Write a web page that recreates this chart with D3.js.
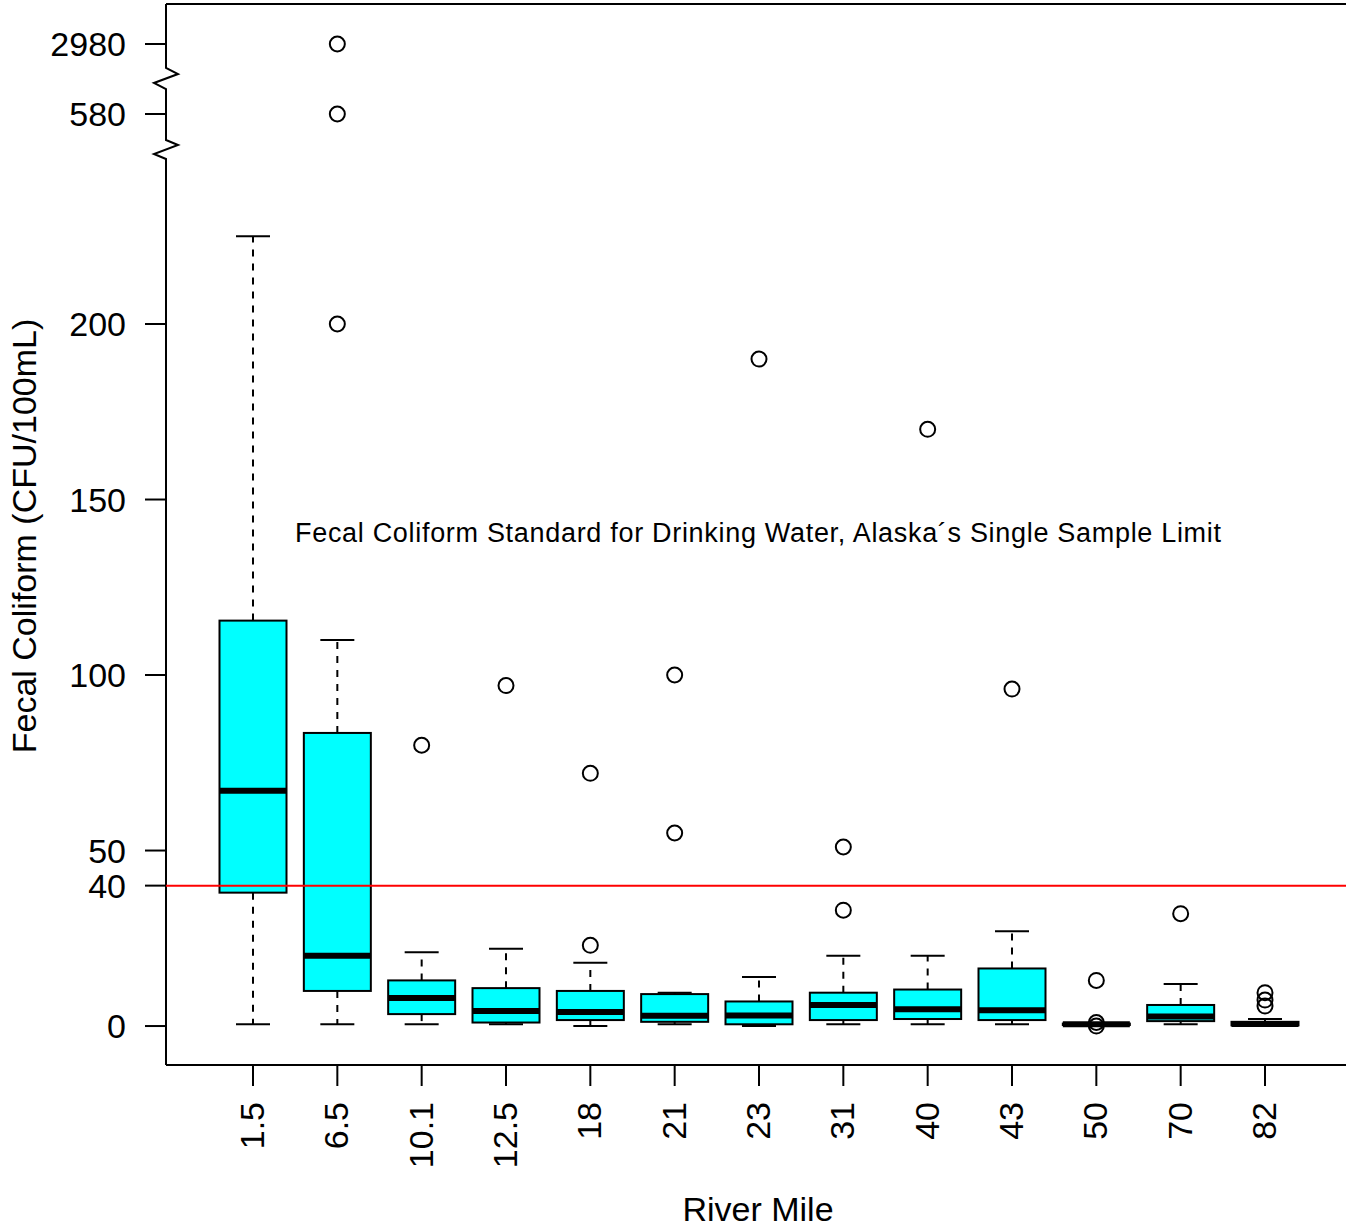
<!DOCTYPE html>
<html>
<head>
<meta charset="utf-8">
<script src="https://cdn.jsdelivr.net/npm/d3@7"></script>
<style>
  html, body { margin: 0; padding: 0; background: #fff; }
  svg { display: block; }
  text { font-family: "Liberation Sans", Arial, Helvetica, sans-serif; fill: #000; }
</style>
</head>
<body>
<svg id="chart" width="1346" height="1228"></svg>
<script>
// ---- Data ----
const categories = ["1.5","6.5","10.1","12.5","18","21","23","31","40","43","50","70","82"];
const whiskerLow  = [0.5, 0.5, 0.5, 0.5, 0,   0.5, 0,   0.5, 0.5, 0.5, 0.3, 0.5, 0];
const q1          = [38,  10,  3.4, 1,   1.7, 1.2, 0.5, 1.7, 2,   1.7, 0.3, 1.4, 0.2];
const medians     = [67,  20,  8,   4.3, 4,   2.9, 3,   6,   4.8, 4.5, 0.5, 2.7, 0.6];
const q3          = [115.5, 83.5, 13, 10.8, 10, 9.1, 7, 9.5, 10.4, 16.4, 0.7, 6, 1.2];
const whiskerHigh = [225, 110, 21,  22,  18,  9.5, 14,  20,  20,  27,  0.7, 12,  2];
const outliers    = [[], [200, 580, 2980], [80], [97], [23, 72], [55, 100], [190], [33, 51], [170], [96], [13, 1, 0], [32], [5.7, 7.4, 9.5]];
const yTicks = [0, 40, 50, 100, 150, 200, 580, 2980];
const limitValue = 40;
const limitLabel = "Fecal Coliform Standard for Drinking Water, Alaska\u00b4s Single Sample Limit";
const xTitle = "River Mile";
const yTitle = "Fecal Coliform (CFU/100mL)";

(function () {
// ---- Layout ----
const pLeft = 166, pTop = 4, pBottom = 1065, pRight = 1346;
const svg = d3.select("#chart");

// Broken y scale: linear lower section, compressed upper sections
const y = d3.scaleLinear()
  .domain([-11.1, 250, 580, 2980])
  .range([pBottom, 148.5, 114, 44]);

const x = d3.scalePoint().domain(categories).range([253, 1265]);
const boxW = 67, capW = 34;

// ---- Frame ----
const frame = svg.append("g").attr("fill", "none").attr("stroke", "#000").attr("stroke-width", 2);
frame.append("line").attr("x1", pLeft).attr("x2", pRight).attr("y1", pTop).attr("y2", pTop);
frame.append("line").attr("x1", pLeft).attr("x2", pRight).attr("y1", pBottom).attr("y2", pBottom);
// left axis with two zigzag breaks
const axisPath = d3.path();
axisPath.moveTo(pLeft, pTop);
axisPath.lineTo(pLeft, 68);
axisPath.lineTo(178, 74); axisPath.lineTo(154, 83); axisPath.lineTo(pLeft, 89);
axisPath.lineTo(pLeft, 140);
axisPath.lineTo(178, 145); axisPath.lineTo(154, 154); axisPath.lineTo(pLeft, 159);
axisPath.lineTo(pLeft, pBottom);
frame.append("path").attr("d", axisPath.toString()).attr("stroke-linejoin", "miter");

// ---- Y axis ticks & labels ----
const yg = svg.append("g");
yTicks.forEach(t => {
  yg.append("line").attr("x1", 145).attr("x2", pLeft).attr("y1", y(t)).attr("y2", y(t))
    .attr("stroke", "#000").attr("stroke-width", 2);
  yg.append("text").attr("x", 126).attr("y", y(t) + 12)
    .attr("text-anchor", "end").attr("font-size", 34).text(t);
});

// ---- X axis ticks & labels ----
const xg = svg.append("g");
categories.forEach(c => {
  xg.append("line").attr("x1", x(c)).attr("x2", x(c)).attr("y1", pBottom).attr("y2", 1086)
    .attr("stroke", "#000").attr("stroke-width", 2);
  xg.append("text")
    .attr("transform", `translate(${x(c) + 11},1102) rotate(-90)`)
    .attr("text-anchor", "end").attr("font-size", 34).text(c);
});

// ---- Titles ----
svg.append("text").attr("x", 758).attr("y", 1221).attr("text-anchor", "middle")
  .attr("font-size", 34).text(xTitle);
svg.append("text").attr("transform", `translate(36,536) rotate(-90)`)
  .attr("text-anchor", "middle").attr("font-size", 34).text(yTitle);

// ---- Boxes ----
const boxes = svg.append("g");
categories.forEach((c, i) => {
  const cx = x(c);
  const g = boxes.append("g");
  // whiskers (dashed)
  g.append("line").attr("x1", cx).attr("x2", cx).attr("y1", y(q3[i])).attr("y2", y(whiskerHigh[i]))
    .attr("stroke", "#000").attr("stroke-width", 2).attr("stroke-dasharray", "7,7");
  g.append("line").attr("x1", cx).attr("x2", cx).attr("y1", y(q1[i])).attr("y2", y(whiskerLow[i]))
    .attr("stroke", "#000").attr("stroke-width", 2).attr("stroke-dasharray", "7,7");
  // caps
  g.append("line").attr("x1", cx - capW / 2).attr("x2", cx + capW / 2)
    .attr("y1", y(whiskerHigh[i])).attr("y2", y(whiskerHigh[i]))
    .attr("stroke", "#000").attr("stroke-width", 2);
  g.append("line").attr("x1", cx - capW / 2).attr("x2", cx + capW / 2)
    .attr("y1", y(whiskerLow[i])).attr("y2", y(whiskerLow[i]))
    .attr("stroke", "#000").attr("stroke-width", 2);
  // box
  g.append("rect").attr("x", cx - boxW / 2).attr("width", boxW)
    .attr("y", y(q3[i])).attr("height", Math.max(0.5, y(q1[i]) - y(q3[i])))
    .attr("fill", "#00ffff").attr("stroke", "#000").attr("stroke-width", 2);
  // median
  g.append("line").attr("x1", cx - boxW / 2).attr("x2", cx + boxW / 2)
    .attr("y1", y(medians[i])).attr("y2", y(medians[i]))
    .attr("stroke", "#000").attr("stroke-width", 6);
  // outliers
  outliers[i].forEach(v => {
    g.append("circle").attr("cx", cx).attr("cy", y(v)).attr("r", 7.5)
      .attr("fill", "none").attr("stroke", "#000").attr("stroke-width", 2);
  });
});

// ---- Limit line & label ----
svg.append("line").attr("x1", pLeft).attr("x2", pRight).attr("y1", y(limitValue)).attr("y2", y(limitValue))
  .attr("stroke", "#ff0000").attr("stroke-width", 2);
svg.append("text").attr("x", 295).attr("y", 542).attr("font-size", 27)
  .attr("textLength", 926).attr("lengthAdjust", "spacing").text(limitLabel);
})();
</script>
</body>
</html>
